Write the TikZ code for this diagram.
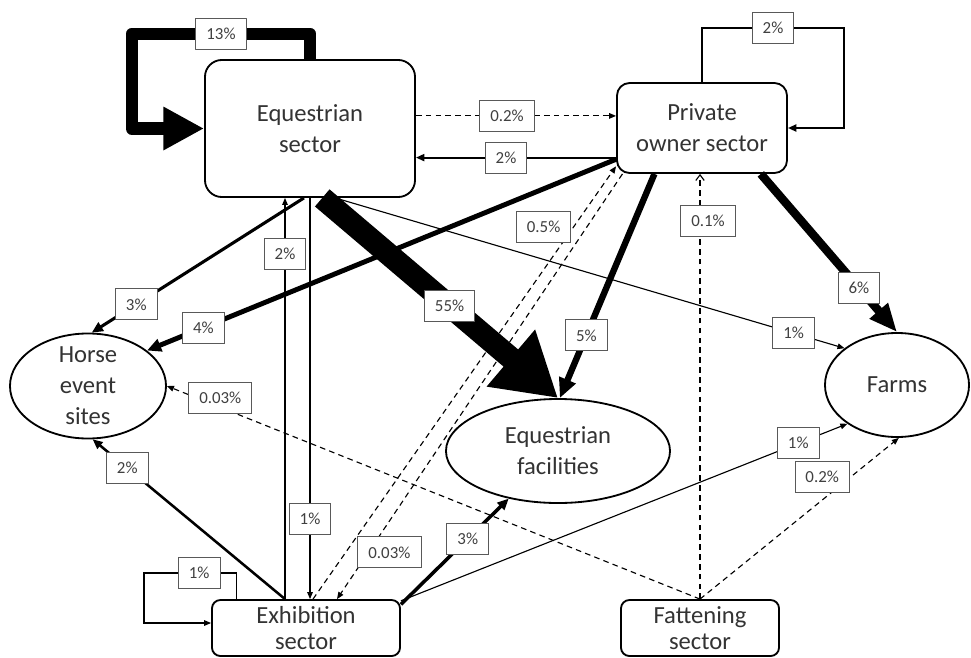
\documentclass[tikz,border=0pt]{standalone}
\usepackage{fontspec}
\setmainfont{Carlito}
\usetikzlibrary{arrows.meta,calc,shapes.geometric}
\tikzset{>={Triangle[length=5pt,width=4pt]}}
\tikzset{
  sector/.style={draw, line width=1.3pt, rounded corners=9pt, fill=white, align=center,
    inner sep=0pt, text=black!80, font=\fontsize{17.5}{22}\selectfont},
  place/.style={draw, ellipse, line width=1.3pt, fill=white, align=center,
    inner sep=0pt, text=black!80, font=\fontsize{17.5}{22}\selectfont},
  pct/.style={draw=black!65, solid, fill=white, line width=0.6pt, inner xsep=7.5pt, inner ysep=0pt,
    minimum height=22pt, text=black!75, font=\fontsize{12}{14}\selectfont},
  thinflow/.style={line width=0.8pt, ->},
  dashflow/.style={line width=0.8pt, dash pattern=on 4pt off 3pt, ->},
}

\begin{document}
\begin{tikzpicture}[x=0.025cm,y=-0.025cm]
  \useasboundingbox (0,0) rectangle (971,657);

  % sectors
  \node[sector, rounded corners=12pt, minimum width=5.25cm, minimum height=3.425cm] (eqs) at (310,128.5) {Equestrian\\sector};
  \node[sector, minimum width=4.25cm, minimum height=2.25cm] (pos) at (702,128) {Private\\owner sector};
  \node[sector, rounded corners=6pt, minimum width=4.7cm, minimum height=1.4cm, font=\fontsize{17.5}{19}\selectfont] (exh) at (306,628) {Exhibition\\sector};
  \node[sector, rounded corners=6pt, minimum width=3.95cm, minimum height=1.4cm, font=\fontsize{17.5}{19}\selectfont] (fat) at (700,628) {Fattening\\sector};

  % destinations
  \node[place, inner ysep=-8pt, minimum width=3.9cm, minimum height=2.625cm] (hes) at (88,386) {Horse\\event\\sites};
  \node[place, minimum width=5.6cm, minimum height=2.6cm] (fac) at (558,451) {Equestrian\\facilities};
  \node[place, minimum width=3.6cm, minimum height=2.6cm] (frm) at (897,385) {Farms};

  % loops
  \draw[line width=9.2pt, line join=round, -{Triangle[length=29pt,width=29pt]}] (eqs.north) |- node[pct,pos=0.75]{13\%} (132,34) |- (eqs.west);
  \draw[line width=1.4pt, -{Triangle[length=6pt,width=5pt]}] (pos.north) |- node[pct,pos=0.75]{2\%} (844,28) |- (pos.east);
  \draw[thinflow] ($(exh.north west)+(25,0)$) |- node[pct,pos=0.7]{1\%} (144,573) |- ($(exh.west)+(0,-5)$);

  % between the two upper sectors
  \draw[dashflow] (eqs.east |- pos.172) -- node[pct,pos=0.455]{0.2\%} (pos.172);
  \draw[line width=1.4pt, -{Triangle[length=6pt,width=5pt]}] (pos.199) -- node[pct,pos=0.55]{2\%} (eqs.east |- pos.199);

  % exhibition and equestrian sector
  \coordinate (ex2) at ($(exh.north)+(-21,0)$);
  \draw[thinflow] (ex2) -- node[pct,pos=0.86]{2\%} (ex2 |- eqs.south);
  \draw[thinflow] (eqs.south) -- node[pct,pos=0.8]{1\%} (eqs.south |- exh.north);
  \draw[thinflow] (eqs.-70) -- node[pct,pos=0.9]{1\%} (frm.145);

  % to horse event sites
  \draw[line width=2.2pt, -{Triangle[length=8pt,width=7pt]}] (eqs.-95) -- node[pct,pos=0.79]{3\%} (hes.86);
  \draw[line width=3.5pt, -{Triangle[length=10pt,width=9pt]}] (pos.200) -- node[pct,pos=0.88]{4\%} (hes.31);
  \draw[line width=1.8pt, -{Triangle[length=7pt,width=6pt]}] (ex2) -- node[pct,pos=0.82]{2\%} (hes.-85);

  % private owner sector
  \draw[line width=6pt, -{Triangle[length=20pt,width=16pt]}] (pos.-38) -- node[pct,pos=0.72]{6\%} (frm.north);
  \draw[line width=4.5pt, -{Triangle[length=14pt,width=12pt]}] (pos.-136) -- node[pct,pos=0.72]{5\%} (fac.88);
  \draw[dashflow] ($(exh.north)+(7,0)$) -- node[pct,pos=0.86,xshift=-0.75cm]{0.5\%} (pos.204);
  \draw[dashflow] (pos.210) -- node[pct,pos=0.89,xshift=0.525cm]{0.03\%} ($(exh.north)+(31,0)$);

  % exhibition sector outwards
  \draw[line width=2.5pt, -{Triangle[length=8pt,width=7pt]}] (exh.14) -- node[pct,pos=0.62]{3\%} (fac.224);
  \draw[thinflow] (exh.16) -- node[pct,pos=0.89]{1\%} (frm.218);

  % fattening sector
  \draw[dashflow, -{Straight Barb[length=4pt,width=6pt]}] (fat.north) -- node[pct,pos=0.89,xshift=0.2cm]{0.1\%} (fat.north |- pos.south);
  \draw[dashflow] (fat.north) -- node[pct,pos=0.9,yshift=0.225cm]{0.03\%} (hes.east);
  \draw[dashflow] (fat.north) -- node[pct,pos=0.69,xshift=-0.375cm,yshift=0.275cm]{0.2\%} (frm.-88);

  % main flow
  \draw[line width=16pt, -{Triangle[length=44pt,width=50pt]}] (eqs.-80) -- node[pct,pos=0.54]{55\%} (fac.north);
\end{tikzpicture}
\end{document}
